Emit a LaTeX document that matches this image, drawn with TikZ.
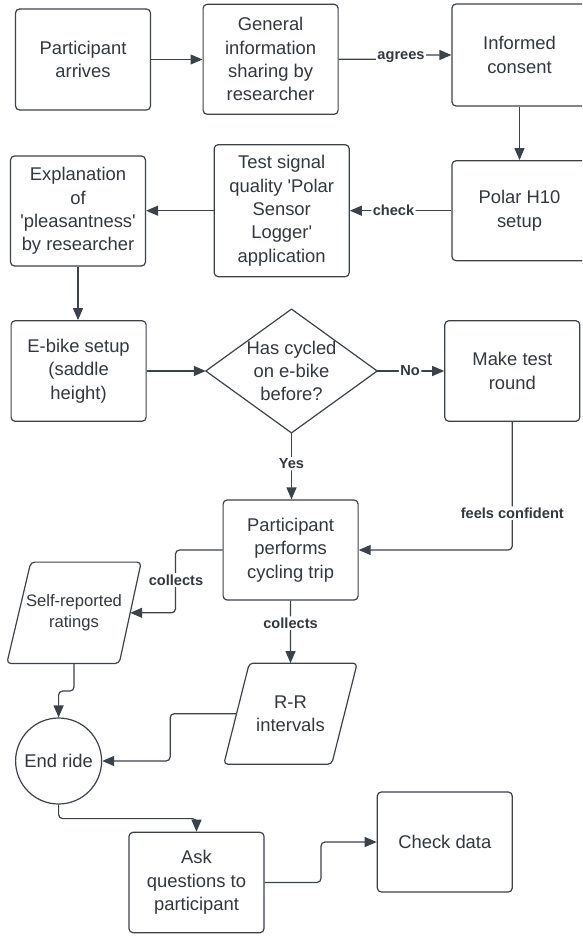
\documentclass[tikz,border=0pt]{standalone}
\usepackage{fontspec}
\setmainfont{Liberation Sans}
\usetikzlibrary{arrows.meta,calc}
\definecolor{ln}{RGB}{60,66,74}
\definecolor{tx}{RGB}{51,55,62}
\begin{document}
\begin{tikzpicture}[x=1pt,y=-1pt,
  txt/.style={align=center, text=tx, font=\fontsize{18.4}{23.3}\selectfont, inner sep=0pt},
  box/.style={txt, draw=ln, line width=1.2pt, rounded corners=4pt, minimum width=135pt},
  shp/.style={draw=ln, line width=1.2pt, line join=round},
  arr/.style={draw=ln, line width=1.2pt, -{Triangle[length=12pt,width=10pt]}, rounded corners=4pt},
  lab/.style={fill=white, text=tx, font=\bfseries\fontsize{14.6}{17}\selectfont, inner sep=1.5pt}]
\useasboundingbox (0,0) rectangle (582,936);
\fill[white] (0,0) rectangle (582,936);
\clip (0,0) rectangle (582,936);

% nodes
\node[box, minimum height=101pt] (A) at (83,59.5) {Participant\\arrives};
\node[box, minimum height=110pt] (B) at (270.6,59.3) {General\\information\\sharing by\\researcher};
\node[box, minimum height=102pt] (C) at (519.5,55) {Informed\\consent};
\node[box, minimum height=110pt] (D) at (78,211) {Explanation\\of\\\textquotesingle pleasantness\textquotesingle\\by researcher};
\node[box, minimum height=132pt] (E) at (281.7,210.7) {Test signal\\quality \textquotesingle Polar\\Sensor\\Logger\textquotesingle\\application};
\node[box, minimum height=100pt] (F) at (519.5,210.7) {Polar H10\\setup};
\node[box, minimum height=100.6pt] (G) at (78.6,371) {E-bike setup\\(saddle\\height)};
\node[txt, minimum width=171pt, minimum height=123.4pt] (Q) at (291.5,371) {Has cycled\\on e-bike\\before?};
\draw[shp] (Q.north) -- (Q.east) -- (Q.south) -- (Q.west) -- cycle;
\node[box, minimum height=100.6pt] (H) at (512.3,371) {Make test\\round};
\node[box, minimum height=100pt] (I) at (290.6,550) {Participant\\performs\\cycling trip};
\node[txt, font=\fontsize{16.6}{20.5}\selectfont, minimum width=134pt, minimum height=101pt] (SR) at (74,612.8) {Self-reported\\ratings};
\draw[shp, rounded corners=4pt] ($(SR.north west)+(24,0)$) -- (SR.north east) -- ($(SR.south east)+(-22,0)$) -- (SR.south west) -- cycle;
\node[txt, minimum width=133pt, minimum height=100.7pt] (RR) at (290.5,713.7) {R-R\\intervals};
\draw[shp, rounded corners=4pt] ($(RR.north west)+(25.5,0)$) -- (RR.north east) -- ($(RR.south east)+(-25.5,0)$) -- (RR.south west) -- cycle;
\node[txt, draw=ln, line width=1.2pt, circle, minimum size=86pt] (End) at (58.6,761) {End ride};
\node[box, minimum height=100.4pt] (Ask) at (196.5,882.5) {Ask\\questions to\\participant};
\node[box, minimum height=100pt] (Chk) at (444.8,842) {Check data};

% connectors
\draw[arr] (A.east) -- (A.east -| B.west);
\draw[arr] (B.east) -- ++(63,0) |- (C.west);
\node[lab] (agr) at (401,57) {agrees};
\draw[arr] (C.south) -- (F.north);
\draw[arr] (F.west) -- node[lab, pos=0.57] {check} (E.east);
\draw[arr] (E.west) -- (E.west -| D.east);
\draw[arr] (D.south) -- (D.south |- G.north);
\draw[arr] (G.east) -- (Q.west);
\draw[arr] (Q.east) -- node[lab, pos=0.49] {No} (H.west);
\draw[arr] (Q.south) -- node[lab, pos=0.465] {Yes} (Q.south |- I.north);
\draw[arr] (H.south) |- node[lab, pos=0.356] {feels confident} (I.east);
\draw[arr] (I.west) -- ++(-47,0) |- ($(SR.east)+(-11,0)$);
\node[lab] (col1) at (176,580) {collects};
\draw[arr] (I.south) -- node[lab, pos=0.36] {collects} (RR.north);
\draw[arr] (SR.south) -- ++(0,27.5) -| (End.north);
\draw[arr] ($(RR.west)+(12.75,0)$) -- ++(-66.4,0) |- (End.east);
\draw[arr] (End.south) -- ++(0,14) -| (Ask.north);
\draw[arr] (Ask.east) -- ++(56.4,0) |- (Chk.west);
\end{tikzpicture}
\end{document}
